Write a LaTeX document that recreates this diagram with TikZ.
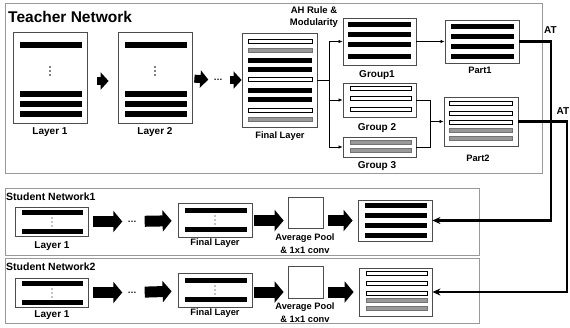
\documentclass[tikz,border=0pt]{standalone}
\usepackage{fontspec}
\setmainfont{Liberation Sans}
\usetikzlibrary{arrows.meta}
\tikzstyle{netframe}=[draw=black!40, line width=0.8pt]
\tikzstyle{layerbox}=[draw=black!70, line width=0.8pt, fill=white, inner sep=0pt]
\tikzstyle{solidbar}=[fill=black]
\tikzstyle{openbar}=[draw=black, line width=0.5pt, fill=white]
\tikzstyle{hatchbar}=[draw=black!55, line width=0.4pt, fill=black!40]
\tikzstyle{lbl}=[font=\bfseries\fontsize{10}{12}\selectfont, inner sep=0pt]
\tikzstyle{smalllbl}=[font=\bfseries\fontsize{9.3}{13}\selectfont, inner sep=0pt, align=center]
\tikzstyle{nettitle}=[font=\bfseries\fontsize{10.5}{12}\selectfont, anchor=west, inner sep=0pt]
\tikzstyle{thinarrow}=[line width=0.7pt, -{Latex[length=4pt,width=3.5pt]}]
\tikzstyle{atline}=[line width=2.2pt, -{Stealth[length=8pt,width=7pt]}]
\tikzstyle{fatarrow}=[line width=11pt, -{Triangle[length=9pt,width=21pt]}]
\tikzstyle{smallfat}=[line width=8pt, -{Triangle[length=8pt,width=17pt]}]

\begin{document}
\begin{tikzpicture}[x=1pt, y=-1pt]
\useasboundingbox (0,0) rectangle (570,327);
% Teacher network
    \draw[netframe] (5,3) rectangle (542,173);
    \node[nettitle, font=\bfseries\fontsize{15.5}{18}\selectfont] (tname) at (8,16.5) {Teacher Network};
%Layer 1
    \node[layerbox, minimum width=74, minimum height=91] (tlayer1) at (50,77.5) {};
    \fill[solidbar] (20,42) rectangle (82,48);
    \fill[solidbar] (20,91) rectangle (82,97);
    \fill[solidbar] (20,101) rectangle (82,107);
    \fill[solidbar] (20,111) rectangle (82,117);
    \fill (50,67) circle (0.8);
    \fill (50,71) circle (0.8);
    \fill (50,75) circle (0.8);
    \node[lbl] (tlayer1lbl) at (50,132) {Layer 1};
%Layer 2
    \node[layerbox, minimum width=74, minimum height=91] (tlayer2) at (155,77.5) {};
    \fill[solidbar] (125,42) rectangle (187,48);
    \fill[solidbar] (125,91) rectangle (187,97);
    \fill[solidbar] (125,101) rectangle (187,107);
    \fill[solidbar] (125,111) rectangle (187,117);
    \fill (155,67) circle (0.8);
    \fill (155,71) circle (0.8);
    \fill (155,75) circle (0.8);
    \node[lbl] (tlayer2lbl) at (155,132) {Layer 2};
%Final layer
    \node[layerbox, minimum width=75, minimum height=94] (tfinal) at (279.5,80) {};
    \filldraw[openbar] (248,39) rectangle (312,43);
    \filldraw[hatchbar] (248,48) rectangle (312,52);
    \fill[solidbar] (248,57.5) rectangle (312,62.5);
    \fill[solidbar] (248,66.5) rectangle (312,71.5);
    \filldraw[openbar] (248,77) rectangle (312,81);
    \fill[solidbar] (248,87.5) rectangle (312,92.5);
    \fill[solidbar] (248,96.5) rectangle (312,101.5);
    \filldraw[openbar] (248,108) rectangle (312,112);
    \filldraw[hatchbar] (248,117) rectangle (312,121);
    \node[smalllbl] (tfinallbl) at (280,136) {Final Layer};
    \node[lbl, font=\bfseries\fontsize{9}{12}\selectfont] (tdots) at (218,80) {\dots};
%Layer arrows
    \draw[smallfat, shorten <=10pt, shorten >=9pt] ([yshift=-3.5pt]tlayer1.east) -- ([yshift=-3.5pt]tlayer2.west);
    \draw[smallfat, shorten <=2pt, shorten >=5pt] ([yshift=-1pt]tlayer2.east) -- (tdots.west);
    \draw[smallfat, shorten <=7pt] (tdots.east) -- (tfinal.west);
%AH rule and groups
    \node[smalllbl, font=\bfseries\fontsize{9.5}{12}\selectfont] (ahrule) at (314,17) {AH Rule \&\\Modularity};
    \node[layerbox, minimum width=73, minimum height=47] (group1) at (379.5,41.5) {};
    \fill[solidbar] (348,21.5) rectangle (411,26.5);
    \fill[solidbar] (348,31.5) rectangle (411,36.5);
    \fill[solidbar] (348,41.5) rectangle (411,46.5);
    \fill[solidbar] (348,53.5) rectangle (411,58.5);
    \node[lbl] (group1lbl) at (377,75) {Group1};
    \node[layerbox, minimum width=73, minimum height=34] (group2) at (379.5,100) {};
    \filldraw[openbar] (350,86) rectangle (411,90);
    \filldraw[openbar] (350,96) rectangle (411,100);
    \filldraw[openbar] (350,107) rectangle (411,111);
    \node[lbl] (group2lbl) at (377,128) {Group 2};
    \node[layerbox, minimum width=73, minimum height=20] (group3) at (379.5,147) {};
    \filldraw[hatchbar] (350,140.5) rectangle (411,144.5);
    \filldraw[hatchbar] (350,148.5) rectangle (411,152.5);
    \node[lbl] (group3lbl) at (377,166) {Group 3};
%Parts
    \node[layerbox, minimum width=74, minimum height=43] (part1) at (482,41.5) {};
    \fill[solidbar] (451,23.5) rectangle (514,28.5);
    \fill[solidbar] (451,33.5) rectangle (514,38.5);
    \fill[solidbar] (451,43.5) rectangle (514,48.5);
    \fill[solidbar] (451,53.5) rectangle (514,58.5);
    \node[lbl, font=\bfseries\fontsize{9.3}{12}\selectfont] (part1lbl) at (480,70) {Part1};
    \node[layerbox, minimum width=74, minimum height=49] (part2) at (481,121.5) {};
    \filldraw[openbar] (449,101) rectangle (512,105);
    \filldraw[openbar] (449,111) rectangle (512,115);
    \filldraw[openbar] (449,120) rectangle (512,124);
    \filldraw[hatchbar] (449,128) rectangle (512,132);
    \filldraw[hatchbar] (449,136) rectangle (512,140);
    \node[lbl, font=\bfseries\fontsize{9.3}{12}\selectfont] (part2lbl) at (478,158) {Part2};
%Group connectors
    \coordinate (branch) at (329,80);
    \coordinate (merge) at (430,121.5);
    \draw[line width=0.7pt] (tfinal.east) -- (branch);
    \draw[thinarrow] (branch) |- (group1);
    \draw[thinarrow] (branch) |- (group2);
    \draw[thinarrow] (branch) |- (group3);
    \draw[thinarrow] (group1) -- (part1);
    \draw[line width=0.7pt] (group2.east) -| (merge);
    \draw[line width=0.7pt] (group3.east) -| (merge);
    \draw[thinarrow] (merge) -- (part2);

% Student network 1
    \draw[netframe] (5,188) rectangle (479,255);
    \node[nettitle] (s1name) at (6,197) {Student Network1};
    \node[layerbox, minimum width=73, minimum height=29] (s1layer1) at (51.5,221.5) {};
    \fill[solidbar] (22,209.5) rectangle (83,214.5);
    \fill[solidbar] (22,229) rectangle (83,234);
    \fill (52,218) circle (0.7);
    \fill (52,222) circle (0.7);
    \fill (52,226) circle (0.7);
    \node[lbl] (s1layer1lbl) at (52,246) {Layer 1};
    \node[lbl, font=\bfseries\fontsize{9}{12}\selectfont] (s1dots) at (132,221.5) {\dots};
    \node[layerbox, minimum width=74, minimum height=34] (s1final) at (215,220) {};
    \fill[solidbar] (185,207.5) rectangle (247,212.5);
    \fill[solidbar] (185,227) rectangle (247,232);
    \fill (215,216) circle (0.7);
    \fill (215,220) circle (0.7);
    \fill (215,224) circle (0.7);
    \node[smalllbl] (s1finallbl) at (215,243) {Final Layer};
    \node[layerbox, minimum width=35, minimum height=31] (s1pool) at (305.5,212.5) {};
    \node[smalllbl] (s1poollbl) at (305,243.5) {Average Pool\\\& 1x1 conv};
    \node[layerbox, minimum width=74, minimum height=41] (s1target) at (395,220.5) {};
    \fill[solidbar] (365,202.5) rectangle (427,207.5);
    \fill[solidbar] (365,212.5) rectangle (427,217.5);
    \fill[solidbar] (365,222.5) rectangle (427,227.5);
    \fill[solidbar] (365,232.5) rectangle (427,237.5);
    \draw[fatarrow, shorten <=5pt, shorten >=5pt] (s1layer1) -- (s1dots);
    \draw[fatarrow, shorten <=8pt, shorten >=6pt] (s1dots) -- (s1final);
    \draw[fatarrow, shorten <=2pt, shorten >=4pt] (s1final.east |- s1target) -- (s1pool.west |- s1target);
    \draw[fatarrow, shorten <=5pt, shorten >=5pt] (s1pool.east |- s1target) -- (s1target);

% Student network 2
    \draw[netframe] (5,258) rectangle (479,323);
    \node[nettitle] (s2name) at (6,267) {Student Network2};
    \node[layerbox, minimum width=73, minimum height=29] (s2layer1) at (51.5,292.5) {};
    \fill[solidbar] (22,280.5) rectangle (83,285.5);
    \fill[solidbar] (22,300) rectangle (83,305);
    \fill (52,289) circle (0.7);
    \fill (52,293) circle (0.7);
    \fill (52,297) circle (0.7);
    \node[lbl] (s2layer1lbl) at (52,315) {Layer 1};
    \node[lbl, font=\bfseries\fontsize{9}{12}\selectfont] (s2dots) at (132,292.5) {\dots};
    \node[layerbox, minimum width=74, minimum height=34] (s2final) at (215,290) {};
    \fill[solidbar] (185,277.5) rectangle (247,282.5);
    \fill[solidbar] (185,297) rectangle (247,302);
    \fill (215,286) circle (0.7);
    \fill (215,290) circle (0.7);
    \fill (215,294) circle (0.7);
    \node[smalllbl] (s2finallbl) at (215,313) {Final Layer};
    \node[layerbox, minimum width=35, minimum height=32] (s2pool) at (305.5,282) {};
    \node[smalllbl] (s2poollbl) at (305,312.5) {Average Pool\\\& 1x1 conv};
    \node[layerbox, minimum width=73, minimum height=48] (s2target) at (395.5,292) {};
    \filldraw[openbar] (366,271) rectangle (427,275);
    \filldraw[openbar] (366,281) rectangle (427,285);
    \filldraw[openbar] (366,291) rectangle (427,295);
    \filldraw[hatchbar] (366,298) rectangle (427,302);
    \filldraw[hatchbar] (366,306) rectangle (427,310);
    \draw[fatarrow, shorten <=5pt, shorten >=5pt] (s2layer1) -- (s2dots);
    \draw[fatarrow, shorten <=8pt, shorten >=6pt] (s2dots) -- (s2final);
    \draw[fatarrow, shorten <=2pt, shorten >=4pt] (s2final.east |- s2target) -- (s2pool.west |- s2target);
    \draw[fatarrow, shorten <=5pt, shorten >=5pt] (s2pool.east |- s2target) -- (s2target);

% AT transfer
    \coordinate (at1) at (551,41.5);
    \coordinate (at2) at (567,121.5);
    \draw[atline] (part1.east) -- (at1) |- (s1target);
    \draw[atline] (part2.east) -- (at2) |- (s2target);
    \node[lbl, font=\bfseries\fontsize{10}{12}\selectfont] (at1lbl) at (550.5,30) {AT};
    \node[lbl, font=\bfseries\fontsize{10}{12}\selectfont] (at2lbl) at (563,111) {AT};
\end{tikzpicture}
\end{document}
